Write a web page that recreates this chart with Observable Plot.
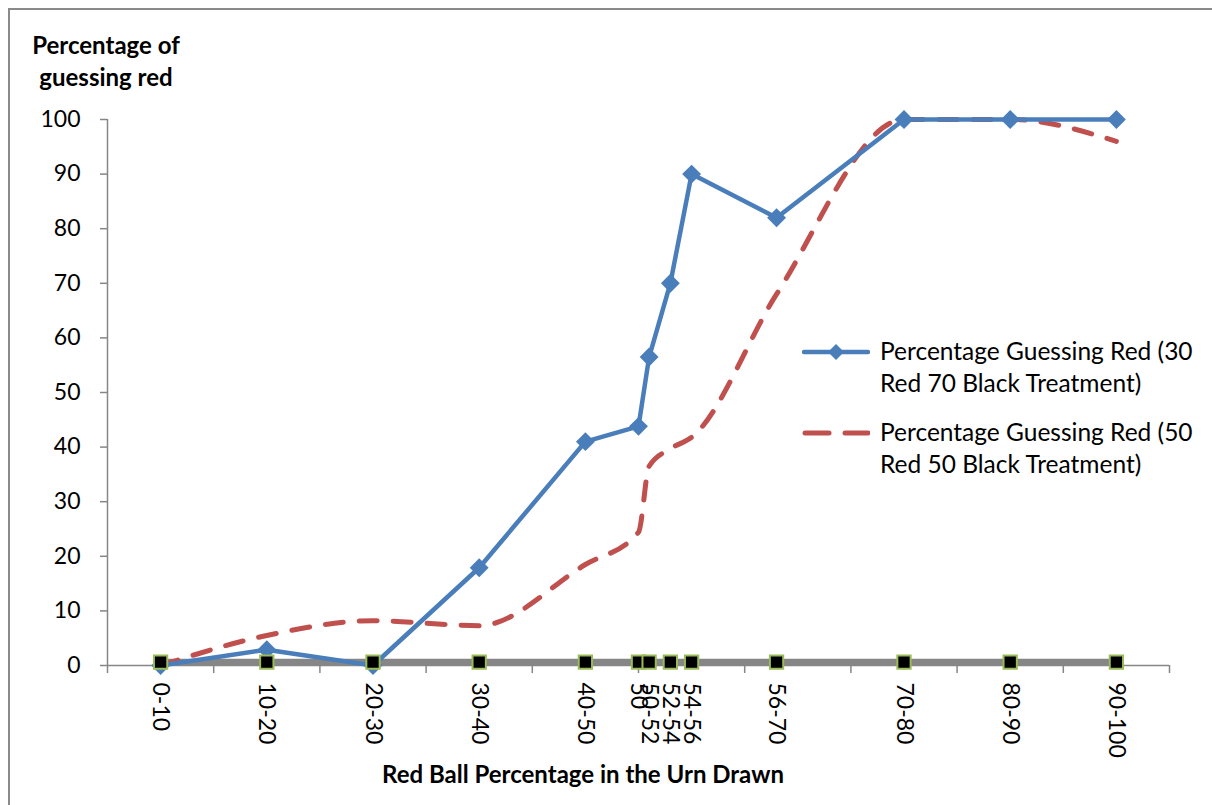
<!DOCTYPE html>
<html>
<head>
<meta charset="utf-8">
<script src="https://cdn.jsdelivr.net/npm/d3@7"></script>
<script src="https://cdn.jsdelivr.net/npm/@observablehq/plot@0.6"></script>
<style>
  html, body { margin: 0; padding: 0; background: #fff; }
  #wrap { position: relative; width: 1212px; height: 805px; overflow: hidden; font-family: Lato, "Open Sans", sans-serif; color: #000; }
  #frame { position: absolute; left: 8px; top: 8px; width: 1300px; height: 900px; border-left: 2px solid #8a8a8a; border-top: 2px solid #8a8a8a; box-sizing: border-box; }
  .ytitle { position: absolute; left: 6px; width: 200px; top: 29px; text-align: center; font-weight: bold; font-size: 24px; line-height: 32px; }
  .xtitle { position: absolute; left: 283px; width: 600px; top: 759px; text-align: center; font-weight: bold; font-size: 24px; }
  .legend { position: absolute; left: 802px; top: 335px; font-size: 24.5px; line-height: 32px; white-space: nowrap; }
  .item { display: flex; align-items: flex-start; margin-bottom: 17px; }
  .item svg { flex: none; margin-top: 0px; }
  .item span { margin-left: 10px; }
  #chart { position: absolute; left: 0; top: 0; }
</style>
</head>
<body>
<div id="wrap">
  <div id="chart"></div>
  <div id="frame"></div>
  <div class="ytitle">Percentage of<br>guessing red</div>
  <div class="xtitle">Red Ball Percentage in the Urn Drawn</div>
  <div class="legend">
    <div class="item">
      <svg width="68" height="32"><line x1="2" y1="17" x2="66" y2="17" stroke="#4a7ebb" stroke-width="4.5" stroke-linecap="round"/><path d="M34,9 L42,17 L34,25 L26,17 Z" fill="#4a7ebb"/></svg>
      <span>Percentage Guessing Red (30<br>Red 70 Black Treatment)</span>
    </div>
    <div class="item">
      <svg width="68" height="32"><line x1="3" y1="17" x2="27" y2="17" stroke="#c0504d" stroke-width="5" stroke-linecap="round"/><line x1="43" y1="17" x2="66" y2="17" stroke="#c0504d" stroke-width="5" stroke-linecap="round"/></svg>
      <span>Percentage Guessing Red (50<br>Red 50 Black Treatment)</span>
    </div>
  </div>
</div>
<script>
// Category labels and their positions on the red-ball percentage scale
const categories = ["0-10","10-20","20-30","30-40","40-50","50","50-52","52-54","54-56","56-70","70-80","80-90","90-100"];
const positions  = [5, 15, 25, 35, 45, 50, 51, 53, 55, 63, 75, 85, 95];
// Series values (percentage guessing red)
const treatment30 = [0, 2.9, 0, 17.9, 41, 43.8, 56.5, 70, 90, 82, 100, 100, 100];
const treatment50 = [0, 5.5, 8.2, 7.3, 18.5, 24.4, 36.5, 39.7, 41.8, 68, 100, 100, 96];
const baseline    = [0.6, 0.6, 0.6, 0.6, 0.6, 0.6, 0.6, 0.6, 0.6, 0.6, 0.6, 0.6, 0.6];
const yTicks = [0, 10, 20, 30, 40, 50, 60, 70, 80, 90, 100];
const xBoundaryTicks = [0, 10, 20, 30, 40, 50, 60, 70, 80, 90, 100];

const rows = categories.map((c, i) => ({cat: c, x: positions[i], a: treatment30[i], b: treatment50[i], z: baseline[i]}));

const axisColor = "#868686";
const chart = Plot.plot({
  width: 1212,
  height: 805,
  marginLeft: 107,
  marginRight: 43,
  marginTop: 119,
  marginBottom: 140,
  style: {fontFamily: "Lato, 'Open Sans', sans-serif", fontSize: "23px", color: "#000", background: "transparent"},
  x: {domain: [0, 100]},
  y: {domain: [0, 100]},
  marks: [
    Plot.ruleX([0], {y1: 0, y2: 100, stroke: axisColor, strokeWidth: 1.5}),
    Plot.ruleY([0], {stroke: axisColor, strokeWidth: 1.5}),
    Plot.axisY({ticks: yTicks, tickSize: 7, tickPadding: 20, stroke: axisColor, strokeWidth: 1.5, label: null, fill: "#000", fontSize: 23}),
    Plot.axisX({ticks: xBoundaryTicks, tickSize: 8, tickFormat: () => "", stroke: axisColor, strokeWidth: 1.5, label: null}),
    Plot.axisX({ticks: positions, tickSize: 0, tickPadding: 17, tickRotate: 90, tickFormat: (d) => categories[positions.indexOf(d)], label: null, fill: "#000", fontSize: 23}),
    Plot.line(rows, {x: "x", y: "z", stroke: "#868686", strokeWidth: 7}),
    Plot.line(rows, {x: "x", y: "b", stroke: "#c0504d", strokeWidth: 5, strokeDasharray: "18,16", strokeLinecap: "round", curve: "monotone-x"}),
    Plot.line(rows, {x: "x", y: "a", stroke: "#4a7ebb", strokeWidth: 4.5}),
    Plot.dot(rows, {x: "x", y: "a", symbol: "diamond2", r: 8.5, fill: "#4a7ebb", stroke: "none"}),
    Plot.dot(rows, {x: "x", y: "z", symbol: "square", r: 7.5, fill: "#000", stroke: "#9bbb59", strokeWidth: 2})
  ]
});
document.getElementById("chart").appendChild(chart);
</script>
</body>
</html>
